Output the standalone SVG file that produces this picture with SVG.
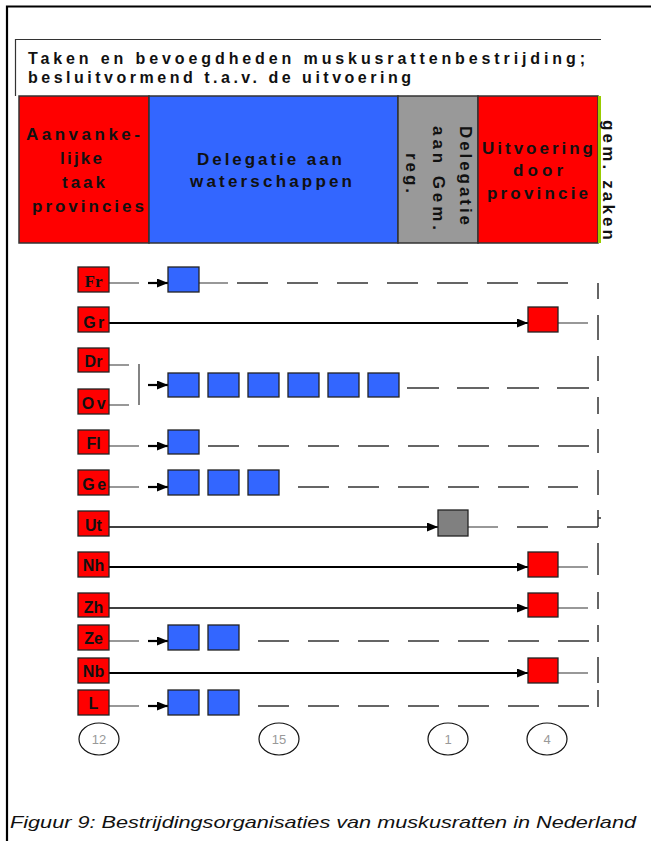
<svg xmlns="http://www.w3.org/2000/svg" width="651" height="841" viewBox="0 0 651 841">
  <style>
    .hdr { font-family: "Liberation Sans", Arial, sans-serif; font-weight: bold; font-size: 17px; fill: #111; }
    .ttl { font-family: "Liberation Sans", Arial, sans-serif; font-weight: bold; font-size: 16px; fill: #111; }
    .lbl { font-family: "Liberation Sans", Arial, sans-serif; font-weight: bold; font-size: 16px; fill: #111; text-anchor: middle; }
    .lbl-serif { font-family: "Liberation Serif", "Times New Roman", serif; font-weight: bold; font-size: 17px; fill: #111; text-anchor: middle; }
    .prov { fill: #FF0000; stroke: #222; stroke-width: 1.3; }
    .ws { fill: #3366FF; stroke: #222; stroke-width: 1.3; }
    .gem { fill: #808080; stroke: #222; stroke-width: 1.3; }
    .cnt { fill: #fff; stroke: #111; stroke-width: 1.2; }
    .cnt-t { font-family: "Liberation Sans", Arial, sans-serif; font-size: 13px; fill: #999; text-anchor: middle; }
    .thin { stroke: #333; stroke-width: 1.2; fill: none; }
    .main { stroke: #000; stroke-width: 2.2; fill: none; }
    .arr { stroke: #000; stroke-width: 2.2; fill: none; }
    .dash { stroke: #333; stroke-width: 1.5; fill: none; stroke-dasharray: 31 19; }
    .cap { font-family: "Liberation Sans", Arial, sans-serif; font-style: italic; font-size: 17px; fill: #111; }
  </style>
  <defs>
    <marker id="head" markerUnits="userSpaceOnUse" markerWidth="11" markerHeight="9" refX="11" refY="4.5" orient="auto">
      <path d="M0,0 L11,4.5 L0,9 Z" fill="#000"/>
    </marker>
  </defs>

  <rect width="651" height="841" fill="#fff"/>

  <!-- page frame -->
  <path d="M7,841 V6.5 H651" fill="none" stroke="#000" stroke-width="2.2"/>

  <!-- title block -->
  <g id="title">
    <path d="M15.5,96 V39.5 H601" fill="none" stroke="#333" stroke-width="1.2"/>
    <text class="ttl" x="28" y="64" textLength="557" lengthAdjust="spacing">Taken en bevoegdheden muskusrattenbestrijding;</text>
    <text class="ttl" x="28" y="83" textLength="383" lengthAdjust="spacing">besluitvormend t.a.v. de uitvoering</text>
  </g>

  <!-- header columns -->
  <g id="col-provincies">
    <rect x="19" y="96" width="130" height="147" fill="#FF0000" stroke="#333" stroke-width="1.5"/>
    <text class="hdr" x="26" y="140" textLength="114" lengthAdjust="spacing">Aanvanke-</text>
    <text class="hdr" x="60" y="164" textLength="42" lengthAdjust="spacing">lijke</text>
    <text class="hdr" x="62" y="188" textLength="43" lengthAdjust="spacing">taak</text>
    <text class="hdr" x="32" y="212" textLength="112" lengthAdjust="spacing">provincies</text>
  </g>
  <g id="col-waterschappen">
    <rect x="149" y="96" width="249" height="147" fill="#3366FF" stroke="#333" stroke-width="1.5"/>
    <text class="hdr" x="197" y="165" textLength="145" lengthAdjust="spacing">Delegatie aan</text>
    <text class="hdr" x="190" y="187" textLength="162" lengthAdjust="spacing">waterschappen</text>
  </g>
  <g id="col-gemreg">
    <rect x="398" y="96" width="80" height="147" fill="#999999" stroke="#333" stroke-width="1.5"/>
    <text class="hdr" transform="translate(460,126) rotate(90)" textLength="99" lengthAdjust="spacing">Delegatie</text>
    <text class="hdr" transform="translate(433,126) rotate(90)" textLength="104" lengthAdjust="spacing">aan Gem.</text>
    <text class="hdr" transform="translate(406,153) rotate(90)" textLength="40" lengthAdjust="spacing">reg.</text>
  </g>
  <g id="col-uitvoering">
    <rect x="478" y="96" width="120" height="147" fill="#FF0000" stroke="#333" stroke-width="1.5"/>
    <text class="hdr" x="482" y="154" textLength="111" lengthAdjust="spacing">Uitvoering</text>
    <text class="hdr" x="513" y="176" textLength="50" lengthAdjust="spacing">door</text>
    <text class="hdr" x="487" y="199" textLength="101" lengthAdjust="spacing">provincie</text>
  </g>
  <g id="col-gemzaken">
    <rect x="598" y="96" width="3" height="147" fill="#99CC00"/>
    <text class="hdr" transform="translate(603,120) rotate(90)" textLength="120" lengthAdjust="spacing">gem. zaken</text>
  </g>

  <!-- connectors -->
  <g id="connectors">
    <!-- label stubs -->
    <path class="thin" d="M109,283 H139 M109,365 H129 M109,405 H129 M139,364 V405 M109,446 H139 M109,487 H139 M109,641 H139 M109,706 H139"/>
    <!-- short arrows into the first waterschap box -->
    <path class="arr" d="M148,283 H168" marker-end="url(#head)"/>
    <path class="arr" d="M148,385 H168" marker-end="url(#head)"/>
    <path class="arr" d="M148,446 H168" marker-end="url(#head)"/>
    <path class="arr" d="M148,487 H168" marker-end="url(#head)"/>
    <path class="arr" d="M148,641 H168" marker-end="url(#head)"/>
    <path class="arr" d="M148,706 H168" marker-end="url(#head)"/>
    <!-- long arrows to provincial execution -->
    <path class="main" d="M109,323 H528" marker-end="url(#head)"/>
    <path class="main" d="M109,567 H528" marker-end="url(#head)"/>
    <path class="arr" style="stroke-width:1.6" d="M109,608 H528" marker-end="url(#head)"/>
    <path class="main" d="M109,673 H528" marker-end="url(#head)"/>
    <path class="arr" style="stroke-width:1.6" d="M109,527 H438" marker-end="url(#head)"/>
    <!-- tails after execution boxes -->
    <path class="thin" d="M558,323 H588 M558,567 H588 M558,608 H588 M558,673 H588 M468,527 H498 M199,283 H228"/>
    <!-- dashed continuations -->
    <path class="dash" d="M237,283 H568"/>
    <path class="dash" style="stroke-dasharray:32 18" d="M407,388 H589"/>
    <path class="dash" d="M208,446 H589"/>
    <path class="dash" d="M298,487 H578"/>
    <path class="dash" d="M517,527 H548 M567,527 H598" style="stroke-dasharray:none"/>
    <path class="dash" d="M258,641 H589"/>
    <path class="dash" d="M258,706 H589"/>
    <!-- right-hand boundary -->
    <path class="thin" style="stroke-width:1.5" d="M598,283 V299 M598,315 V340 M598,356 V381 M598,397 V414 M598,429 V453 M598,470 V495 M598,510 V527 M598,518 H601 M598,543 V575 M598,592 V609 M598,625 V642 M598,657 V683 M598,690 V707"/>
  </g>

  <!-- provinces -->
  <g id="prov-fr"><rect class="prov" x="78" y="267" width="31" height="25"/><text class="lbl-serif" x="93.5" y="287">Fr</text></g>
  <g id="prov-gr"><rect class="prov" x="78" y="307" width="31" height="25"/><text class="lbl" x="95" y="328" letter-spacing="2.5">Gr</text></g>
  <g id="prov-dr"><rect class="prov" x="78" y="348" width="31" height="24"/><text class="lbl" x="93.5" y="367">Dr</text></g>
  <g id="prov-ov"><rect class="prov" x="78" y="389" width="31" height="25"/><text class="lbl" x="95" y="409" letter-spacing="2.5">Ov</text></g>
  <g id="prov-fl"><rect class="prov" x="78" y="430" width="31" height="24"/><text class="lbl" x="93.5" y="449">Fl</text></g>
  <g id="prov-ge"><rect class="prov" x="78" y="470" width="31" height="25"/><text class="lbl" x="95.5" y="490" letter-spacing="2.5">Ge</text></g>
  <g id="prov-ut"><rect class="prov" x="78" y="511" width="31" height="25"/><text class="lbl" x="93.5" y="531">Ut</text></g>
  <g id="prov-nh"><rect class="prov" x="78" y="552" width="31" height="25"/><text class="lbl" x="93.5" y="571">Nh</text></g>
  <g id="prov-zh"><rect class="prov" x="78" y="593" width="31" height="24"/><text class="lbl" x="93.5" y="613">Zh</text></g>
  <g id="prov-ze"><rect class="prov" x="78" y="625" width="31" height="25"/><text class="lbl" x="93.5" y="644">Ze</text></g>
  <g id="prov-nb"><rect class="prov" x="78" y="658" width="31" height="25"/><text class="lbl" x="93.5" y="677">Nb</text></g>
  <g id="prov-l"><rect class="prov" x="78" y="690" width="31" height="25"/><text class="lbl" x="93.5" y="709">L</text></g>

  <!-- waterschappen -->
  <g id="ws-fr"><rect class="ws" x="168" y="267" width="31" height="25"/></g>
  <g id="ws-drov">
    <rect class="ws" x="168" y="373" width="31" height="24"/>
    <rect class="ws" x="208" y="373" width="31" height="24"/>
    <rect class="ws" x="248" y="373" width="31" height="24"/>
    <rect class="ws" x="288" y="373" width="31" height="24"/>
    <rect class="ws" x="328" y="373" width="31" height="24"/>
    <rect class="ws" x="368" y="373" width="31" height="24"/>
  </g>
  <g id="ws-fl"><rect class="ws" x="168" y="430" width="31" height="24"/></g>
  <g id="ws-ge">
    <rect class="ws" x="168" y="470" width="31" height="25"/>
    <rect class="ws" x="208" y="470" width="31" height="25"/>
    <rect class="ws" x="248" y="470" width="31" height="25"/>
  </g>
  <g id="ws-ze">
    <rect class="ws" x="168" y="625" width="31" height="25"/>
    <rect class="ws" x="208" y="625" width="31" height="25"/>
  </g>
  <g id="ws-l">
    <rect class="ws" x="168" y="690" width="31" height="25"/>
    <rect class="ws" x="208" y="690" width="31" height="25"/>
  </g>

  <!-- gemeenschappelijke regeling -->
  <g id="gr-ut"><rect class="gem" x="438" y="510" width="30" height="26"/></g>

  <!-- provincial execution -->
  <g id="ex-gr"><rect class="prov" x="528" y="307" width="30" height="25"/></g>
  <g id="ex-nh"><rect class="prov" x="528" y="552" width="30" height="25"/></g>
  <g id="ex-zh"><rect class="prov" x="528" y="593" width="30" height="24"/></g>
  <g id="ex-nb"><rect class="prov" x="528" y="658" width="30" height="25"/></g>

  <!-- counts -->
  <g id="count-12"><ellipse class="cnt" cx="99" cy="739" rx="20" ry="16"/><text class="cnt-t" x="99" y="744">12</text></g>
  <g id="count-15"><ellipse class="cnt" cx="279" cy="739" rx="20" ry="16"/><text class="cnt-t" x="279" y="744">15</text></g>
  <g id="count-1"><ellipse class="cnt" cx="448" cy="739" rx="20" ry="16"/><text class="cnt-t" x="448" y="744">1</text></g>
  <g id="count-4"><ellipse class="cnt" cx="547" cy="739" rx="20" ry="16"/><text class="cnt-t" x="547" y="744">4</text></g>

  <!-- caption -->
  <text class="cap" x="10" y="828" textLength="626" lengthAdjust="spacingAndGlyphs">Figuur 9: Bestrijdingsorganisaties van muskusratten in Nederland</text>
</svg>
